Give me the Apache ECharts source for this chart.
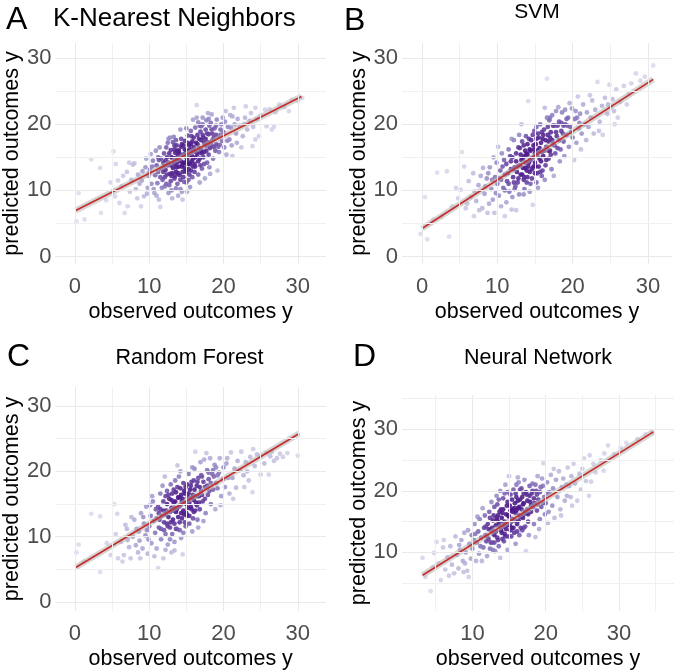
<!DOCTYPE html>
<html><head><meta charset="utf-8">
<script src="https://cdn.jsdelivr.net/npm/echarts@6/dist/echarts.min.js"></script>
<style>html,body{margin:0;padding:0;background:#fff}#c{width:677px;height:671px}</style>
</head><body><div id="c"></div>
<script>
const panelLetters = ['A','B','C','D'];
const panelTitles = ['K-Nearest Neighbors','SVM','Random Forest','Neural Network'];
const xTitle = 'observed outcomes y';
const yTitle = 'predicted outcomes y';
const xTickLabels = [[0,10,20,30],[0,10,20,30],[0,10,20,30],[10,20,30]];
const yTickLabels = [[0,10,20,30],[0,10,20,30],[0,10,20,30],[10,20,30]];

// observed, predicted
const knn = [[0.2,5.3],[0.5,9.6],[1.3,5.6],[2.2,14.7],[3.4,13.4],[3.5,6.6],[4.2,8.5],[4.8,11.2],
[5.2,15.9],[5.5,14.0],[5.4,9.1],[6.0,8.1],[6.3,10.6],[6.7,6.6],[7.1,7.6],[7.4,9.8],[7.6,11.6],[7.0,12.8],[6.5,12.2],[5.8,11.5],[7.8,13.9],[7.3,14.2],
[8.0,14.1],[8.5,12.4],[8.9,7.6],[9.3,9.1],[9.8,10.4],[8.2,10.2],[8.7,11.0],[9.1,12.9],[9.5,13.5],[9.9,12.2],[8.4,8.8],[9.6,14.8],[9.0,11.5],[9.7,9.5],
[10.0,12.6],[10.4,13.6],[10.7,9.6],[11.1,11.1],[11.3,8.6],[10.2,15.5],[10.5,14.5],[10.8,12.3],[11.0,13.8],[11.2,15.0],[11.5,12.0],[11.7,10.4],[11.9,14.2],[10.3,11.0],[10.9,16.0],[11.4,16.5],[11.6,13.3],[11.8,11.6],[10.6,10.2],[11.0,9.2],[11.5,7.5],[11.9,12.8],[11.3,14.6],[10.1,13.1],
[12.0,15.6],[12.2,13.1],[12.3,11.0],[12.5,17.2],[12.6,14.2],[12.8,12.5],[12.9,16.1],[13.0,10.0],[13.1,14.9],[13.2,13.4],[13.3,18.1],[13.4,11.8],[13.5,15.7],[13.6,12.8],[13.7,16.8],[13.8,14.3],[13.9,9.2],[12.1,12.0],[12.4,15.0],[12.7,10.8],[12.9,13.8],[13.2,17.3],[13.5,14.0],[13.8,11.0],[12.3,16.5],[12.6,9.6],[13.0,12.2],[13.4,16.2],[13.7,13.5],[13.9,15.3],[12.2,14.5],[12.8,18.0],[13.6,10.3],[13.1,8.8],
[14.0,14.8],[14.1,12.3],[14.2,19.2],[14.3,16.6],[14.4,13.6],[14.5,8.6],[14.6,15.4],[14.7,11.3],[14.8,17.5],[14.9,14.1],[15.0,12.8],[15.1,16.0],[15.2,18.3],[15.3,13.2],[15.4,15.2],[15.5,10.5],[15.6,17.0],[15.7,14.4],[15.8,12.0],[15.9,20.7],[14.2,10.2],[14.5,14.0],[14.8,16.2],[15.0,15.0],[15.3,11.6],[15.6,19.0],[15.8,15.9],[14.3,17.8],[14.9,13.0],[15.4,16.8],[15.9,13.6],[14.6,12.0],[15.1,9.8],[15.5,14.0],[14.0,16.0],[15.7,18.2],
[16.0,16.5],[16.1,14.0],[16.2,19.5],[16.4,21.0],[16.4,22.9],[16.5,15.5],[16.6,12.4],[16.7,17.8],[16.8,14.8],[16.9,18.9],[17.0,16.2],[17.1,13.3],[17.2,20.0],[17.3,15.0],[17.4,17.2],[17.5,11.8],[17.6,19.2],[17.7,16.0],[17.8,14.2],[17.9,21.7],[16.3,17.2],[16.6,20.3],[16.9,15.9],[17.2,18.4],[17.5,16.8],[17.8,18.6],[16.1,12.8],[16.8,11.2],[17.4,14.0],[17.9,17.3],[16.5,18.4],[17.0,19.7],[17.7,20.6],[16.2,15.0],
[18.0,18.5],[18.2,16.4],[18.3,20.2],[18.5,17.6],[18.6,14.8],[18.8,19.4],[19.0,17.0],[19.1,20.7],[19.3,18.1],[19.4,15.8],[19.6,19.2],[19.8,17.5],[19.9,21.0],[18.1,13.5],[18.4,21.5],[18.9,16.0],[19.2,13.0],[19.5,16.9],[19.7,20.0],[18.7,18.0],[19.0,19.8],[18.2,12.5],[19.6,18.4],[18.4,19.2],
[20.0,18.8],[20.2,20.4],[20.4,15.4],[20.5,17.5],[20.8,17.7],[21.0,19.5],[21.2,21.2],[21.2,15.2],[21.5,20.0],[21.7,18.6],[21.9,20.8],[20.3,22.0],[20.6,19.6],[21.1,16.8],[21.4,22.5],[21.8,17.2],[20.1,16.5],[20.9,21.4],
[22.2,19.8],[22.6,18.2],[22.9,21.0],[23.0,22.7],[23.2,19.2],[23.5,20.5],[23.9,16.7],[24.3,17.7],[24.3,22.5],[24.8,18.2],[24.5,20.8],[25.0,21.4],[25.6,22.2],[25.8,19.7],[22.4,16.5],[23.7,21.7],[22.8,20.0],[24.0,19.6],
[26.5,19.2],[26.2,22.3],[27.0,21.8],[27.5,23.0],[26.8,19.6],[28.2,22.6],[29.2,23.7],[30.0,23.5],[30.6,24.0],[28.8,22.0],
[11.2,12.8],[11.6,14.8],[12.0,13.7],[12.1,10.6],[12.4,12.4],[12.5,13.8],[12.7,15.6],[12.9,11.4],[13.0,15.0],[13.1,12.6],[13.3,14.2],[13.4,16.8],[13.5,12.2],[13.6,14.9],[13.8,16.0],[13.9,12.6],[14.0,13.6],[14.1,15.5],[14.2,11.6],[14.3,14.4],[14.4,17.0],[14.5,12.8],[14.6,16.8],[14.7,14.2],[14.8,13.4],[14.9,15.6],[15.0,11.2],[15.1,14.6],[15.2,17.2],[15.3,14.0],[15.4,12.4],[15.5,16.2],[15.6,13.0],[15.7,15.3],[15.8,17.4],[15.9,14.8],[16.0,18.0],[16.1,16.0],[16.2,13.6],[16.3,15.8],[16.5,17.0],[16.6,14.4],[16.7,16.4],[16.8,19.8],[16.9,13.8],[17.0,17.6],[17.1,15.6],[17.3,18.0],[17.4,15.8],[17.6,17.8],[17.8,16.8],[18.0,15.4],[18.1,19.8],[18.3,17.0],[18.5,18.6],[18.7,16.6],[19.0,18.4],[19.3,16.6],[13.6,17.6],[14.4,9.8],[12.6,17.8],[15.0,19.4],[17.2,21.0],[18.0,20.8]];

const svm = [[-0.2,3.4],[0.4,9.0],[0.7,2.6],[1.5,5.6],[2.0,12.7],[2.6,6.0],[3.3,12.9],[3.6,3.0],[4.0,7.6],[4.5,10.4],[5.1,10.1],[5.3,15.8],[5.6,13.6],[5.8,7.3],[4.8,8.8],
[6.2,11.4],[6.5,9.0],[6.9,6.1],[7.2,8.4],[7.5,10.8],[7.8,12.2],[8.0,7.3],[8.3,9.5],[8.6,11.8],[8.9,8.0],[6.8,12.6],[7.0,9.8],[8.1,13.4],[8.7,6.6],[7.6,7.0],[8.4,10.6],[6.0,8.0],[8.8,12.6],
[9.0,13.5],[9.2,10.2],[9.4,8.6],[9.6,6.6],[9.7,12.0],[9.9,14.2],[10.0,11.0],[10.2,9.2],[10.4,13.0],[10.6,15.6],[10.8,10.4],[11.0,12.4],[11.2,8.2],[9.3,11.6],[10.1,16.6],[10.5,7.6],[10.9,14.6],[9.8,9.6],[10.3,11.8],[10.7,13.6],[11.0,6.1],[9.5,15.0],
[11.2,14.0],[11.3,11.4],[11.5,16.2],[11.6,9.8],[11.8,13.2],[11.9,7.1],[12.0,15.0],[12.1,12.0],[12.2,17.6],[12.4,10.6],[12.5,14.4],[12.6,12.8],[12.8,16.5],[12.9,9.4],[13.0,13.8],[13.2,20.0],[11.4,12.6],[11.7,15.2],[12.3,13.5],[12.7,11.2],[13.1,15.4],[12.0,9.0],[12.9,18.4],[11.9,17.8],[12.5,7.0],
[13.3,12.4],[13.4,14.8],[13.5,16.8],[13.6,10.2],[13.7,13.4],[13.8,18.2],[13.9,15.6],[14.0,12.0],[14.1,23.5],[14.2,14.2],[14.3,16.2],[14.4,11.0],[14.5,17.6],[14.6,13.2],[14.7,7.8],[14.8,15.0],[14.9,19.0],[15.0,12.6],[13.5,11.6],[14.0,17.0],[14.3,9.8],[14.8,16.8],[13.6,15.2],[14.4,14.6],[15.0,14.2],[13.9,13.0],
[15.1,17.0],[15.2,11.2],[15.3,15.4],[15.4,18.6],[15.5,13.6],[15.6,16.4],[15.7,20.0],[15.8,14.4],[15.9,12.2],[16.0,17.8],[16.1,15.2],[16.2,19.2],[16.3,22.5],[16.4,13.8],[16.5,16.6],[16.6,26.9],[16.7,18.4],[16.8,14.8],[16.9,20.6],[17.0,16.0],[15.4,10.4],[15.9,18.8],[16.3,11.6],[16.8,17.4],[15.2,19.6],[16.6,21.0],
[17.1,18.8],[17.2,13.2],[17.3,21.4],[17.4,17.0],[17.6,19.8],[17.7,15.6],[17.8,22.0],[17.9,18.2],[18.0,16.4],[18.2,20.4],[18.3,14.4],[18.5,19.0],[18.6,21.8],[18.8,17.4],[18.9,15.2],[19.0,20.0],[17.5,12.2],[18.1,22.6],[18.7,18.6],[17.0,21.0],[18.4,16.2],[19.0,22.2],
[19.2,18.4],[19.4,21.0],[19.5,16.6],[19.7,19.6],[19.9,22.4],[20.0,18.0],[20.2,14.6],[20.3,20.8],[20.5,17.2],[20.7,24.2],[20.8,19.4],[21.0,21.6],[21.2,18.6],[21.4,23.0],[21.6,20.0],[21.8,17.6],[19.6,23.2],[20.4,22.0],[21.1,16.2],[21.9,21.8],[19.3,19.8],[20.9,20.2],
[22.1,19.6],[22.4,21.0],[22.6,23.6],[22.8,18.6],[23.0,22.2],[23.3,26.4],[23.6,20.4],[23.9,22.8],[24.0,18.4],[24.3,24.0],[24.6,21.6],[24.9,26.0],[25.1,22.7],[25.3,23.8],[25.6,20.0],[25.8,25.3],[22.3,24.4],[23.5,19.0],[24.7,23.0],[25.5,22.0],
[26.3,23.4],[26.8,25.8],[27.2,23.0],[27.8,26.2],[28.4,27.7],[29.0,26.6],[29.6,27.2],[30.7,28.9],[26.0,21.0],[27.5,24.6],
[11.5,11.0],[11.8,14.4],[12.1,13.2],[12.3,10.2],[12.5,15.6],[12.7,13.6],[12.8,11.8],[13.0,16.4],[13.1,12.4],[13.2,14.6],[13.3,17.4],[13.4,13.4],[13.6,12.0],[13.7,16.0],[13.8,14.2],[13.9,11.2],[14.0,15.4],[14.1,13.6],[14.2,17.8],[14.3,12.8],[14.4,16.0],[14.5,14.8],[14.6,11.8],[14.7,18.4],[14.8,13.6],[14.9,16.2],[15.0,15.6],[15.1,13.6],[15.2,17.8],[15.3,12.6],[15.4,16.0],[15.5,18.0],[15.6,14.8],[15.7,12.8],[15.8,17.2],[15.9,15.8],[16.0,13.0],[16.1,18.4],[16.2,16.0],[16.4,17.6],[16.5,14.6],[16.7,19.6],[16.8,16.0],[17.0,18.0],[17.1,15.4],[17.3,17.6],[17.4,19.8],[17.6,16.8],[17.8,18.8],[18.0,19.8],[18.2,17.6],[18.5,20.2],[18.8,19.8],[19.2,20.8],[12.2,11.2],[13.5,9.4],[11.0,10.0],[10.5,11.6],[19.8,18.8],[20.6,21.0]];

const rf = [[0.2,7.6],[0.5,8.8],[1.2,6.2],[2.2,13.5],[3.4,13.1],[3.4,4.6],[4.3,9.0],[4.8,7.2],[5.3,15.0],[5.7,13.5],[5.8,6.7],[5.5,10.4],
[6.2,9.2],[6.6,7.2],[6.8,11.8],[7.0,11.2],[7.3,8.4],[7.5,6.7],[7.8,10.0],[8.0,12.6],[8.2,8.7],[8.5,7.6],[8.8,6.7],[8.6,10.8],[8.9,13.6],[6.4,6.2],[7.6,13.0],[8.3,11.2],[7.1,9.5],[8.7,9.4],
[9.1,8.2],[9.3,12.0],[9.5,10.2],[9.6,14.6],[9.8,7.4],[10.0,11.6],[10.2,13.2],[10.3,9.0],[10.5,15.4],[10.6,12.4],[10.8,10.6],[10.9,14.2],[11.0,8.2],[9.2,13.0],[9.9,9.6],[10.4,16.2],[10.7,7.0],[11.0,12.8],[9.7,11.0],[10.1,14.8],
[11.2,5.2],[11.2,14.6],[11.3,11.4],[11.5,16.6],[11.6,9.6],[11.7,13.2],[11.9,6.7],[11.9,15.4],[12.0,12.2],[12.1,19.2],[12.2,10.4],[12.3,14.0],[12.4,17.0],[12.5,8.8],[12.6,13.0],[12.7,15.8],[12.8,11.4],[12.9,18.0],[13.0,14.4],[11.4,12.6],[12.2,16.2],[12.8,9.6],[11.8,17.8],[12.4,12.0],[13.0,7.6],
[13.1,16.6],[13.2,12.6],[13.3,15.2],[13.4,7.9],[13.5,18.6],[13.6,13.8],[13.7,11.2],[13.8,20.9],[13.9,16.0],[14.0,14.6],[14.1,12.2],[14.2,17.4],[14.3,9.8],[14.4,15.4],[14.5,7.3],[14.6,18.2],[14.7,13.4],[14.8,16.6],[14.9,11.6],[15.0,15.0],[13.4,14.4],[14.0,19.2],[14.6,10.6],[13.6,16.8],[14.3,13.6],[14.9,17.6],
[15.1,13.2],[15.2,16.0],[15.3,19.6],[15.4,12.0],[15.5,17.2],[15.6,14.6],[15.7,18.4],[15.8,10.8],[15.9,16.4],[16.0,13.8],[16.1,20.4],[16.2,23.0],[16.3,15.2],[16.4,17.8],[16.5,12.6],[16.6,19.0],[16.7,16.2],[16.8,14.2],[16.9,21.4],[17.0,17.0],[15.4,15.2],[16.0,18.6],[16.6,11.4],[15.8,20.6],[16.4,14.8],
[17.1,19.2],[17.2,15.4],[17.4,21.8],[17.5,17.6],[17.6,13.6],[17.8,20.2],[17.9,16.4],[18.0,18.8],[18.2,22.0],[18.3,15.0],[18.5,19.6],[18.6,17.2],[18.8,21.0],[18.9,14.2],[19.0,18.2],[17.3,12.4],[18.1,17.0],[18.7,19.2],[17.7,22.8],[19.0,20.6],
[19.2,17.4],[19.4,19.8],[19.5,22.0],[19.7,16.2],[19.9,18.8],[20.0,20.6],[20.2,17.6],[20.4,21.2],[20.6,19.0],[20.8,16.6],[21.0,22.9],[21.3,15.8],[21.5,20.4],[21.7,17.5],[21.9,21.6],[19.6,14.8],[20.5,22.0],[21.2,19.0],
[22.2,20.2],[22.4,23.0],[22.7,19.4],[23.0,21.4],[23.4,18.6],[23.6,22.2],[23.9,16.8],[24.2,20.8],[24.5,22.6],[25.0,19.5],[25.0,22.4],[25.5,21.2],[25.8,22.8],[22.8,17.6],[24.0,23.4],[23.2,20.0],
[26.1,19.5],[26.3,22.3],[26.8,21.6],[27.2,22.0],[27.6,22.7],[28.0,22.2],[28.6,22.8],[30.0,22.4],[26.5,23.0],
[11.3,13.6],[11.6,11.2],[11.9,14.0],[12.0,11.0],[12.2,13.4],[12.4,15.0],[12.5,11.6],[12.6,16.4],[12.8,13.8],[12.9,12.2],[13.0,15.6],[13.1,10.4],[13.2,14.0],[13.3,17.2],[13.4,12.0],[13.5,15.4],[13.6,11.2],[13.7,14.2],[13.8,17.6],[13.9,13.0],[14.0,16.0],[14.1,11.0],[14.2,14.8],[14.3,16.4],[14.4,12.8],[14.5,15.8],[14.6,14.0],[14.7,17.0],[14.8,12.2],[14.9,15.2],[15.0,13.6],[15.1,18.0],[15.2,14.4],[15.3,16.6],[15.4,13.2],[15.5,15.8],[15.6,17.8],[15.7,14.2],[15.8,16.0],[15.9,12.8],[16.0,15.6],[16.1,17.2],[16.2,14.0],[16.4,16.2],[16.5,18.4],[16.7,15.2],[16.8,17.6],[17.0,19.4],[17.1,16.4],[17.3,18.4],[17.5,15.8],[17.8,17.8],[18.0,19.8],[18.3,18.2],[18.6,20.2],[13.4,9.2],[12.2,8.0],[14.2,20.0],[11.5,14.2],[19.2,19.4]];

const nn = [[3.2,9.1],[3.6,6.0],[4.3,3.7],[4.6,7.6],[4.8,9.9],[5.1,11.7],[5.4,8.2],[5.7,5.5],[6.0,10.8],[6.3,7.2],[6.8,6.2],[6.6,9.2],[7.0,11.0],[7.2,8.0],[7.5,6.6],[7.7,12.6],[7.9,9.6],[6.1,12.0],
[8.1,7.4],[8.3,10.4],[8.5,12.0],[8.7,8.6],[8.9,13.2],[9.1,10.0],[9.3,7.0],[9.5,6.0],[9.6,11.4],[9.8,9.0],[9.9,12.8],[8.2,11.2],[8.8,6.8],[9.4,13.6],[9.0,8.2],
[10.0,10.6],[10.2,12.0],[10.3,14.6],[10.5,8.6],[10.6,11.6],[10.8,13.4],[10.9,9.8],[11.0,15.4],[11.2,12.4],[11.4,17.2],[11.5,10.8],[11.6,14.0],[11.8,12.8],[12.0,9.4],[10.4,13.0],[11.1,11.0],[11.7,16.0],[10.7,15.8],[11.9,11.8],[11.3,8.6],
[12.1,14.6],[12.2,12.2],[12.3,16.6],[12.4,10.6],[12.5,13.6],[12.6,18.2],[12.7,11.6],[12.8,15.2],[12.9,13.0],[13.0,17.4],[13.1,10.2],[13.2,14.4],[13.3,19.2],[13.4,12.4],[13.5,16.0],[13.6,11.0],[13.7,14.8],[13.8,20.0],[13.8,9.1],[13.9,17.0],[12.4,15.6],[13.0,12.8],[13.6,18.6],[12.8,10.4],[13.4,15.2],
[14.0,13.2],[14.1,16.4],[14.2,18.8],[14.3,11.8],[14.4,15.0],[14.5,21.0],[14.6,13.8],[14.7,17.6],[14.8,10.4],[14.9,16.0],[15.0,22.4],[15.1,14.4],[15.2,19.4],[15.3,12.6],[15.4,17.0],[15.5,15.4],[15.6,20.2],[15.7,13.2],[15.8,18.0],[15.9,11.4],[14.2,14.2],[14.8,19.8],[15.4,14.0],[15.9,16.4],[14.5,12.6],[15.2,16.8],
[16.0,19.0],[16.1,14.6],[16.2,17.2],[16.3,21.4],[16.4,12.8],[16.5,18.6],[16.6,15.8],[16.7,20.4],[16.8,13.6],[16.9,17.8],[17.0,16.2],[17.1,21.8],[17.2,14.2],[17.3,10.2],[17.4,19.4],[17.5,17.0],[17.6,15.0],[17.8,20.8],[17.9,18.2],[16.4,16.0],[17.0,19.6],[17.7,12.8],[16.2,22.2],[17.4,16.4],
[18.0,16.6],[18.1,19.6],[18.2,21.2],[18.4,14.6],[18.5,18.0],[18.6,12.5],[18.7,20.0],[18.8,16.8],[18.9,22.4],[19.0,18.6],[19.2,15.4],[19.3,20.6],[19.4,17.4],[19.5,22.0],[19.7,24.5],[19.8,19.0],[19.9,16.2],[18.3,17.4],[19.1,13.8],[19.6,20.8],[18.8,19.4],
[20.0,18.0],[20.2,21.4],[20.4,16.6],[20.5,19.8],[20.7,22.6],[20.9,17.6],[21.0,20.4],[21.2,15.6],[21.4,21.8],[21.6,19.0],[21.8,23.2],[22.0,17.0],[22.2,20.6],[22.4,22.0],[22.6,18.4],[22.8,21.0],[23.0,23.8],[20.3,14.8],[21.1,23.6],[22.1,16.0],[22.9,19.2],
[23.2,20.8],[23.4,19.0],[23.5,22.4],[23.8,24.4],[24.0,21.2],[24.3,18.4],[24.6,22.8],[25.0,23.6],[25.2,25.3],[25.5,21.6],[25.9,19.2],[26.2,21.5],[26.5,24.4],[26.8,23.0],[23.6,17.6],[24.8,20.2],[26.0,25.8],
[27.5,25.0],[27.9,23.3],[28.0,26.1],[28.5,27.4],[29.3,26.0],[30.2,27.0],[31.0,27.8],[32.5,28.4],[33.6,29.2],[34.5,29.6],
[11.8,14.2],[12.0,12.6],[12.2,13.8],[12.5,11.6],[12.7,14.0],[12.9,16.0],[13.0,11.6],[13.2,13.4],[13.3,15.6],[13.5,12.0],[13.6,14.4],[13.7,16.6],[13.9,13.6],[14.0,15.6],[14.1,12.2],[14.2,17.0],[14.3,14.8],[14.4,13.0],[14.6,16.2],[14.7,14.4],[14.8,18.2],[14.9,12.6],[15.0,15.8],[15.1,17.6],[15.2,13.6],[15.3,15.0],[15.4,18.6],[15.5,16.6],[15.6,14.0],[15.7,17.2],[15.8,15.2],[15.9,19.6],[16.0,16.8],[16.1,13.4],[16.2,18.4],[16.3,15.2],[16.4,17.4],[16.5,20.2],[16.6,14.0],[16.7,17.0],[16.8,19.0],[16.9,15.6],[17.0,18.0],[17.2,16.6],[17.3,19.8],[17.5,18.4],[17.6,16.2],[17.8,19.2],[18.0,17.6],[18.2,20.0],[18.4,18.8],[18.6,21.0],[18.9,17.8],[19.2,19.8],[16.0,21.0],[14.4,19.6],[17.0,14.0],[13.4,17.8],[19.6,18.0],[20.2,19.6]];

// fitted regression lines (endpoints)
const knnFit = [[0.1,6.97],[30.5,24.2]];
const svmFit = [[0.0,4.24],[30.7,26.8]];
const rfFit = [[0.1,5.3],[30.2,25.8]];
const nnFit = [[3.2,6.3],[34.7,29.6]];

const panelPoints = [knn, svm, rf, nn];
const panelFits = [knnFit, svmFit, rfFit, nnFit];

// layout / style (pixels)
const FONT = 'Liberation Sans, Arial, sans-serif';
const layout = [
  {left:53, top:43, width:273, height:221, xMin:-2.63, xMax:33.8, yMin:-1.13, yMax:32.3},
  {left:402, top:43, width:270, height:221, xMin:-2.66, xMax:33.2, yMin:-1.13, yMax:32.3},
  {left:53, top:387, width:273, height:226, xMin:-2.63, xMax:33.8, yMin:-1.36, yMax:32.9},
  {left:402, top:395, width:272, height:223, xMin:0.4, xMax:37.5, yMin:0.47, yMax:35.6}
];
const letterPos = [[6,20],[344,21],[7,357],[353,357]];
const titlePos = [[53,19,'left',26],[537,12,'center',21],[189.5,358,'center',21.5],[538,358,'center',21.5]];

function withDensity(pts, h){
  const out = pts.map(p=>{let s=0; for(const q of pts){const dx=(p[0]-q[0])/h, dy=(p[1]-q[1])/h; s+=Math.exp(-0.5*(dx*dx+dy*dy));} return [p[0],p[1],s];});
  const mx = Math.max(...out.map(o=>o[2]));
  out.forEach(o=>{o[2]=o[2]/mx;});
  out.sort((a,b)=>a[2]-b[2]);
  return out;
}
function gridVals(min,max){const v=[];for(let t=Math.ceil(min/5)*5;t<=max;t+=5)v.push(t);return v;}

const grids=[],xAxes=[],yAxes=[],series=[],graphics=[],scatterIdx=[];
layout.forEach((L,i)=>{
  grids.push({left:L.left,top:L.top,width:L.width,height:L.height,containLabel:false});
  xAxes.push({type:'value',gridIndex:i,min:L.xMin,max:L.xMax,
    axisLine:{show:false},axisTick:{show:false},splitLine:{show:false},
    axisLabel:{customValues:xTickLabels[i],fontSize:22,color:'#4d4d4d',fontFamily:FONT,margin:12},
    name:xTitle,nameLocation:'middle',nameGap:37,nameTextStyle:{fontSize:21.5,color:'#000',fontFamily:FONT}});
  yAxes.push({type:'value',gridIndex:i,min:L.yMin,max:L.yMax,
    axisLine:{show:false},axisTick:{show:false},splitLine:{show:false},
    axisLabel:{customValues:yTickLabels[i],fontSize:22,color:'#4d4d4d',fontFamily:FONT,margin:4},
    name:yTitle,nameLocation:'middle',nameGap:25,nameTextStyle:{fontSize:21.5,color:'#000',fontFamily:FONT}});
  const gx=gridVals(L.xMin,L.xMax), gy=gridVals(L.yMin,L.yMax);
  series.push({type:'line',xAxisIndex:i,yAxisIndex:i,data:[],silent:true,z:1,animation:false,
    markLine:{silent:true,symbol:['none','none'],label:{show:false},animation:false,
      lineStyle:{color:'#ebebeb',width:1,type:'solid'},
      data:[...gx.map(v=>({xAxis:v,lineStyle:{color:v%10===0?'#e9e9e9':'#f0f0f0',width:1,type:'solid'}})),
            ...gy.map(v=>({yAxis:v,lineStyle:{color:v%10===0?'#e9e9e9':'#f0f0f0',width:1,type:'solid'}}))]}});
  scatterIdx.push(series.length);
  series.push({type:'scatter',xAxisIndex:i,yAxisIndex:i,data:withDensity(panelPoints[i],1.8),
    symbolSize:4.8,itemStyle:{opacity:0.9},z:2,animation:false,silent:true});
  series.push({type:'line',xAxisIndex:i,yAxisIndex:i,data:panelFits[i],showSymbol:false,symbol:'none',
    lineStyle:{color:'#b4b4b4',width:6,opacity:0.55},z:3,animation:false,silent:true});
  series.push({type:'line',xAxisIndex:i,yAxisIndex:i,data:panelFits[i],showSymbol:false,symbol:'none',
    lineStyle:{color:'#c62d2d',width:1.7},z:4,animation:false,silent:true});
  graphics.push({type:'text',x:letterPos[i][0],y:letterPos[i][1],
    style:{text:panelLetters[i],fontSize:32,fontFamily:FONT,fill:'#000',align:'left',verticalAlign:'middle',textAlign:'left',textVerticalAlign:'middle'}});
  const tp=titlePos[i];
  graphics.push({type:'text',x:tp[0],y:tp[1],
    style:{text:panelTitles[i],fontSize:tp[3],fontFamily:FONT,fill:'#000',align:tp[2],verticalAlign:'middle',textAlign:tp[2],textVerticalAlign:'middle'}});
});

const chart = echarts.init(document.getElementById('c'),null,{renderer:'canvas'});
chart.setOption({
  backgroundColor:'#fff',animation:false,
  grid:grids,xAxis:xAxes,yAxis:yAxes,
  visualMap:[{type:'continuous',show:false,dimension:2,min:0,max:1,seriesIndex:scatterIdx,
    inRange:{color:['#e2e1ef','#cfcde6','#aaa6d2','#8a79bd','#6a47a3','#52238e','#4a168a']}}],
  series:series,
  graphic:graphics
});
</script></body></html>
